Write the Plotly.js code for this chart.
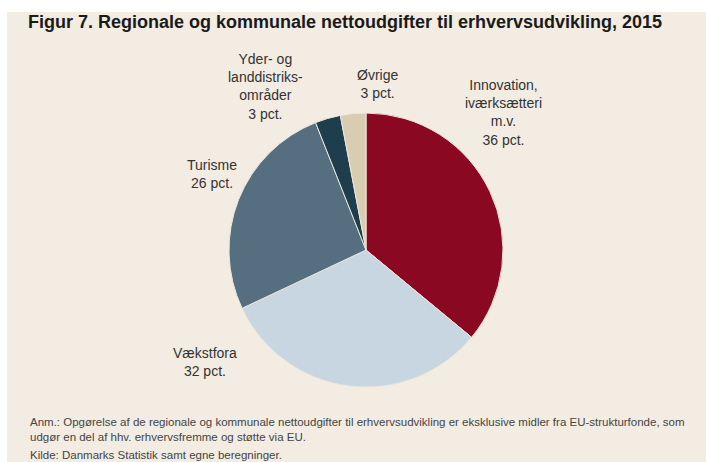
<!DOCTYPE html>
<html>
<head>
<meta charset="utf-8">
<script src="https://cdn.plot.ly/plotly-3.0.1.min.js"></script>
<style>html,body{margin:0;padding:0;background:#fff;}#chart{width:706px;height:462px;}</style>
</head>
<body>
<div id="chart"></div>
<script>
const categories = ["Innovation, iværksætteri m.v.", "Vækstfora", "Turisme", "Yder- og landdistriksområder", "Øvrige"];
const shares = [36, 32, 26, 3, 3];
const sliceColors = ["#8A0822", "#C7D6E0", "#566F80", "#1E3E4E", "#D9CDB1"];
const labelTexts = [
  "Innovation,<br>iværksætteri<br>m.v.<br>36 pct.",
  "Vækstfora<br>32 pct.",
  "Turisme<br>26 pct.",
  "Yder- og<br>landdistriks-<br>områder<br>3 pct.",
  "Øvrige<br>3 pct."
];
const labelPos = [[503, 112], [205, 362], [212, 174], [265, 86], [377, 84]];
const titleText = "Figur 7. Regionale og kommunale nettoudgifter til erhvervsudvikling, 2015";
const noteLines = [
  "Anm.: Opgørelse af de regionale og kommunale nettoudgifter til erhvervsudvikling er eksklusive midler fra EU-strukturfonde, som",
  "udgør en del af hhv. erhvervsfremme og støtte via EU.",
  "Kilde: Danmarks Statistik samt egne beregninger."
];
const noteY = [422, 437, 455];

const W = 706, H = 462;
const px = x => x / W, py = y => 1 - y / H;

const annotations = [];
labelTexts.forEach((t, i) => {
  annotations.push({
    xref: "paper", yref: "paper", x: px(labelPos[i][0]), y: py(labelPos[i][1]),
    text: t, showarrow: false, xanchor: "center", yanchor: "middle", align: "center",
    font: {family: "Liberation Sans, Arial, sans-serif", size: 14, color: "#333333"}
  });
});
annotations.push({
  xref: "paper", yref: "paper", x: px(26), y: py(22), text: "<b>" + titleText + "</b>",
  showarrow: false, xanchor: "left", yanchor: "middle",
  font: {family: "Liberation Sans, Arial, sans-serif", size: 18, color: "#1a1a1a"}
});
noteLines.forEach((t, i) => {
  annotations.push({
    xref: "paper", yref: "paper", x: px(28), y: py(noteY[i]), text: t,
    showarrow: false, xanchor: "left", yanchor: "middle",
    font: {family: "Liberation Sans, Arial, sans-serif", size: 11.5, color: "#444444"}
  });
});

const data = [{
  type: "pie",
  labels: categories,
  values: shares,
  sort: false,
  direction: "clockwise",
  rotation: 0,
  textinfo: "none",
  hoverinfo: "label+value",
  marker: {colors: sliceColors, line: {color: "#EDE6DA", width: 1}},
  domain: {x: [px(229), px(503)], y: [py(387), py(113)]},
  showlegend: false
}];

const layout = {
  width: W, height: H,
  margin: {l: 0, r: 0, t: 0, b: 0},
  paper_bgcolor: "#ffffff",
  showlegend: false,
  shapes: [{
    type: "rect", xref: "paper", yref: "paper", layer: "below",
    x0: px(7), x1: 1, y0: 0, y1: py(12),
    fillcolor: "#F3ECE2", line: {width: 0}
  }],
  annotations: annotations
};

Plotly.newPlot("chart", data, layout, {displayModeBar: false, staticPlot: true});
</script>
</body>
</html>
